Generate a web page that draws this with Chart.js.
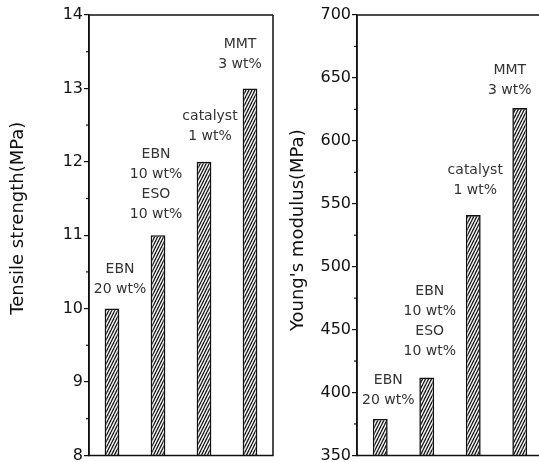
<!DOCTYPE html>
<html>
<head>
<meta charset="utf-8">
<script src="https://cdn.jsdelivr.net/npm/chart.js@4"></script>
<style>
  html, body { margin: 0; padding: 0; background: #fff; overflow: hidden; }
  #wrap { position: relative; width: 539px; height: 462px; overflow: hidden; }
  #tensile { position: absolute; left: 0; top: 0; }
  #modulus { position: absolute; left: 276px; top: 0; }
</style>
</head>
<body>
<div id="wrap">
  <canvas id="tensile" width="280" height="466"></canvas>
  <canvas id="modulus" width="270" height="466"></canvas>
</div>
<script>
// data
const categories = ["EBN 20 wt%", "EBN 10 wt% + ESO 10 wt%", "catalyst 1 wt%", "MMT 3 wt%"];
const barNotes = [
  ["EBN", "20 wt%"],
  ["EBN", "10 wt%", "ESO", "10 wt%"],
  ["catalyst", "1 wt%"],
  ["MMT", "3 wt%"],
];
const tensileValues = [10, 11, 12, 13];
const modulusValues = [379, 412, 541, 626];
const tensileTicks = [8, 9, 10, 11, 12, 13, 14];
const modulusTicks = [350, 400, 450, 500, 550, 600, 650, 700];

function hatch() {
  const c = document.createElement("canvas");
  c.width = 3;
  c.height = 6;
  const g = c.getContext("2d");
  g.fillStyle = "#fff";
  g.fillRect(0, 0, 3, 6);
  g.strokeStyle = "#1a1a1a";
  g.lineWidth = 1.4;
  [-3, 0, 3].forEach((o) => {
    g.beginPath();
    g.moveTo(o, 6);
    g.lineTo(o + 3, 0);
    g.stroke();
  });
  return g.createPattern(c, "repeat");
}

const framePlugin = {
  id: "frame",
  afterDraw(chart, args, opts) {
    const { ctx, chartArea: a } = chart;
    const y = chart.scales.y;
    ctx.save();
    ctx.strokeStyle = "#111";
    ctx.lineWidth = 1.5;
    ctx.beginPath();
    ctx.moveTo(a.right, a.top);
    ctx.lineTo(a.left, a.top);
    ctx.lineTo(a.left, a.bottom);
    ctx.lineTo(a.right, a.bottom);
    if (opts.right) ctx.lineTo(a.right, a.top);
    ctx.stroke();
    // short minor ticks halfway between the labelled ones
    const step = y.options.ticks.stepSize;
    ctx.lineWidth = 1.2;
    for (let v = y.min + step / 2; v < y.max; v += step) {
      const py = y.getPixelForValue(v);
      ctx.beginPath();
      ctx.moveTo(a.left - 3, py);
      ctx.lineTo(a.left, py);
      ctx.stroke();
    }
    ctx.restore();
  },
};

const notesPlugin = {
  id: "notes",
  afterDatasetsDraw(chart, args, opts) {
    const { ctx } = chart;
    const meta = chart.getDatasetMeta(0);
    ctx.save();
    ctx.font = "14px 'DejaVu Sans'";
    ctx.fillStyle = "#333";
    ctx.textAlign = "center";
    ctx.textBaseline = "middle";
    meta.data.forEach((bar, i) => {
      const lines = barNotes[i];
      lines.forEach((t, j) => {
        const py = bar.y - opts.gap[i] - (lines.length - 1 - j) * 20;
        ctx.fillText(t, bar.x + opts.dx[i], py);
      });
    });
    ctx.restore();
  },
};

// y axis title, drawn by hand so it can sit a little off the plot's centre
const yTitlePlugin = {
  id: "yTitle",
  afterDraw(chart, args, opts) {
    const { ctx, chartArea: a } = chart;
    ctx.save();
    ctx.font = "18px 'DejaVu Sans'";
    ctx.fillStyle = "#111";
    ctx.textAlign = "center";
    ctx.textBaseline = "middle";
    ctx.translate(opts.x, (a.top + a.bottom) / 2 + opts.dy);
    ctx.rotate(-Math.PI / 2);
    ctx.fillText(opts.text, 0, 0);
    ctx.restore();
  },
};

function makeChart(id, values, ticks, yWidth, padRight, frame, title, notes) {
  const ctx = document.getElementById(id).getContext("2d");
  return new Chart(ctx, {
    type: "bar",
    data: {
      labels: categories,
      datasets: [
        {
          data: values,
          backgroundColor: hatch(),
          borderColor: "#111",
          borderWidth: 1.6,
          borderSkipped: false,
          barPercentage: 0.32,
          categoryPercentage: 1,
        },
      ],
    },
    plugins: [framePlugin, notesPlugin, yTitlePlugin],
    options: {
      responsive: false,
      animation: false,
      layout: { padding: { top: 15, right: padRight, left: 0, bottom: 0 } },
      plugins: {
        legend: { display: false },
        tooltip: { enabled: false },
        frame: frame,
        notes: notes,
        yTitle: title,
      },
      scales: {
        x: { display: false },
        y: {
          min: ticks[0],
          max: ticks[ticks.length - 1],
          afterFit: (s) => {
            s.width = yWidth;
          },
          ticks: {
            stepSize: ticks[1] - ticks[0],
            color: "#111",
            padding: 1,
            font: { family: "'DejaVu Sans'", size: 16 },
          },
          grid: {
            drawOnChartArea: false,
            drawTicks: true,
            tickLength: 5,
            color: "#111",
            lineWidth: 1.2,
          },
          border: { display: true, color: "#111", width: 1.5 },
        },
      },
    },
  });
}

makeChart("tensile", tensileValues, tensileTicks, 89, 7, { right: true },
  { text: "Tensile strength(MPa)", x: 18, dy: -17 },
  { dx: [8, -2, 6, -10], gap: [19, 21, 25, 24] });
makeChart("modulus", modulusValues, modulusTicks, 81, 3, { right: false },
  { text: "Young's modulus(MPa)", x: 22, dy: -5 },
  { dx: [8, 3, 2, -10], gap: [19, 26, 25, 18] });
</script>
</body>
</html>
